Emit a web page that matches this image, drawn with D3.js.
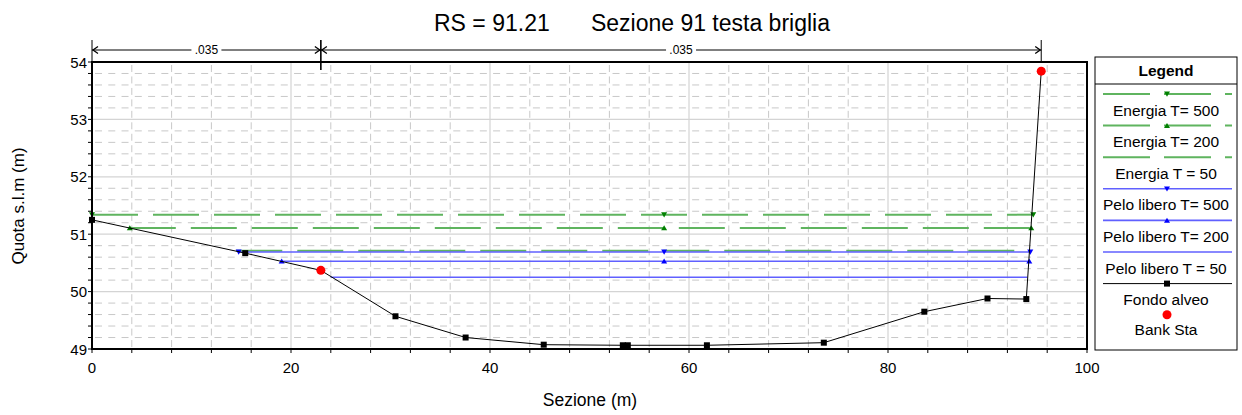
<!DOCTYPE html>
<html><head><meta charset="utf-8">
<script src="https://cdn.jsdelivr.net/npm/d3@7"></script>
<style>body{margin:0;background:#fff;} text{font-family:"Liberation Sans",Arial,sans-serif;}</style>
</head><body><svg id="c" width="1242" height="415"></svg>
<script>
// ---- data ----
const groundX = [0, 15.4, 23.0, 30.5, 37.55, 45.4, 53.35, 53.85, 61.8, 73.55, 83.65, 90.0, 93.9, 95.4];
const groundY = [51.25, 50.67, 50.37, 49.57, 49.20, 49.075, 49.065, 49.065, 49.065, 49.11, 49.65, 49.88, 49.87, 53.84];
const bankX = [23.0, 95.4];
const bankY = [50.37, 53.84];
const profileNames = ["Energia T= 500", "Energia T= 200", "Energia T = 50", "Pelo libero T= 500", "Pelo libero T= 200", "Pelo libero T = 50"];
const profileElev = [51.34, 51.11, 50.71, 50.69, 50.53, 50.25];
const profileStart = [0, 3.8, 14.5, 14.74, 19.06, 24.0];
const profileEnd = [94.6, 94.4, 94.2, 94.3, 94.2, 94.0];
const profileMarkerX = [[0, 57.5, 94.6], [3.8, 57.5, 94.4], [], [14.74, 57.5, 94.3], [19.06, 57.5, 94.2], []];
const roughnessBreaks = [0, 23.0, 95.4];
const roughnessLabels = [".035", ".035"];
const xTicks = [0, 20, 40, 60, 80, 100];
const yTicks = [49, 50, 51, 52, 53, 54];
const titleRS = "RS = 91.21";
const titleName = "Sezione 91 testa briglia";

// ---- styles ----
const kinds = ["energy", "energy", "energy", "ws", "ws", "ws"];
const markerType = ["down", "up", null, "down", "up", null];

const svg = d3.select("#c");
const x = d3.scaleLinear().domain([0, 100]).range([92, 1087]);
const y = d3.scaleLinear().domain([49, 54]).range([349, 62]);

// grid
const g = svg.append("g");
const minorX = d3.range(0, 100.01, 4);
const minorY = d3.range(49, 54.01, 0.2);
g.selectAll(".hm").data(minorY.filter(v => Math.abs(v - Math.round(v)) > 1e-6)).join("line")
  .attr("x1", x(0)).attr("x2", x(100)).attr("y1", d => y(d)).attr("y2", d => y(d))
  .attr("stroke", "#c8c8c8").attr("stroke-width", 1).attr("stroke-dasharray", "7,6.27").attr("stroke-dashoffset", -3);
g.selectAll(".vm").data(minorX.filter(v => v % 20 !== 0)).join("line")
  .attr("y1", y(54)).attr("y2", y(49)).attr("x1", d => x(d)).attr("x2", d => x(d))
  .attr("stroke", "#c8c8c8").attr("stroke-width", 1).attr("stroke-dasharray", "7,4.46").attr("stroke-dashoffset", -3);
g.selectAll(".hM").data(yTicks).join("line")
  .attr("x1", x(0)).attr("x2", x(100)).attr("y1", d => y(d)).attr("y2", d => y(d))
  .attr("stroke", "#d4d4d4").attr("stroke-width", 1.2);
g.selectAll(".vM").data(xTicks).join("line")
  .attr("y1", y(54)).attr("y2", y(49)).attr("x1", d => x(d)).attr("x2", d => x(d))
  .attr("stroke", "#d4d4d4").attr("stroke-width", 1.2);

// axes ticks
const ax = svg.append("g");
ax.selectAll(".xt").data(minorX).join("line")
  .attr("x1", d => x(d)).attr("x2", d => x(d)).attr("y1", y(49)).attr("y2", y(49) + 4)
  .attr("stroke", "#000");
ax.selectAll(".yt").data(minorY).join("line")
  .attr("x1", x(0) - 4).attr("x2", x(0)).attr("y1", d => y(d)).attr("y2", d => y(d))
  .attr("stroke", "#000");
ax.selectAll(".xl").data(xTicks).join("text")
  .attr("x", d => x(d)).attr("y", 373).attr("text-anchor", "middle")
  .attr("font-size", 15).text(d => d);
ax.selectAll(".yl").data(yTicks).join("text")
  .attr("x", x(0) - 5).attr("y", d => y(d) + 5.5).attr("text-anchor", "end")
  .attr("font-size", 15).text(d => d);

// profile lines
const lineColor = k => k === "energy" ? "#5fb45f" : "#6060ff";
const markColor = k => k === "energy" ? "#008000" : "#0000ff";
const tri = (t, s) => t === "down" ? `M${-s},${-s*0.8}L${s},${-s*0.8}L0,${s*0.9}Z` : `M${-s},${s*0.8}L${s},${s*0.8}L0,${-s*0.9}Z`;

const pl = svg.append("g");
profileNames.forEach((n, i) => {
  const k = kinds[i];
  pl.append("line")
    .attr("x1", x(profileStart[i])).attr("x2", x(profileEnd[i]))
    .attr("y1", y(profileElev[i])).attr("y2", y(profileElev[i]))
    .attr("stroke", lineColor(k)).attr("stroke-width", k === "energy" ? 2 : 1.6)
    .attr("stroke-dasharray", k === "energy" ? "46,15" : null);
});
profileNames.forEach((n, i) => {
  if (!markerType[i]) return;
  pl.selectAll(null).data(profileMarkerX[i]).join("path")
    .attr("transform", d => `translate(${x(d)},${y(profileElev[i])})`)
    .attr("d", tri(markerType[i], 3)).attr("fill", markColor(kinds[i]));
});

// ground
const line = d3.line().x(d => x(d[0])).y(d => y(d[1]));
const gpts = groundX.map((v, i) => [v, groundY[i]]);
svg.append("path").attr("d", line(gpts)).attr("fill", "none").attr("stroke", "#000").attr("stroke-width", 1);
svg.selectAll(".gs").data(gpts).join("rect")
  .attr("x", d => x(d[0]) - 3).attr("y", d => y(d[1]) - 3).attr("width", 6).attr("height", 6).attr("fill", "#000");
svg.selectAll(".bk").data(bankX).join("circle")
  .attr("cx", d => x(d)).attr("cy", (d, i) => y(bankY[i])).attr("r", 4.5).attr("fill", "#ff0000");

// frame
svg.append("rect").attr("x", x(0)).attr("y", y(54)).attr("width", x(100) - x(0)).attr("height", y(49) - y(54))
  .attr("fill", "none").attr("stroke", "#000").attr("stroke-width", 2);

// roughness annotation
const an = svg.append("g");
const ay = 50;
an.append("line").attr("x1", x(roughnessBreaks[0])).attr("x2", x(roughnessBreaks[2])).attr("y1", ay).attr("y2", ay).attr("stroke", "#000");
roughnessBreaks.forEach((b, i) => {
  an.append("line").attr("x1", x(b)).attr("x2", x(b)).attr("y1", 40).attr("y2", i === 1 ? y(54) + 8 : y(54)).attr("stroke", "#000").attr("stroke-width", i === 1 ? 1.6 : 1);
});
const arrow = (px, dir) => an.append("path")
  .attr("d", `M${px + dir * 6},${ay - 3.5}L${px + dir * 1},${ay}L${px + dir * 6},${ay + 3.5}`)
  .attr("fill", "none").attr("stroke", "#000").attr("stroke-width", 1.3);
for (let i = 0; i < roughnessLabels.length; i++) {
  const a = x(roughnessBreaks[i]), b = x(roughnessBreaks[i + 1]);
  arrow(a, 1); arrow(b, -1);
  const cx = (a + b) / 2;
  an.append("rect").attr("x", cx - 15).attr("y", ay - 6).attr("width", 30).attr("height", 12).attr("fill", "#fff");
  an.append("text").attr("x", cx).attr("y", ay + 4).attr("text-anchor", "middle").attr("font-size", 12).text(roughnessLabels[i]);
}

// title & labels
svg.append("text").attr("x", 434).attr("y", 31).attr("text-anchor", "start").attr("font-size", 23).text(titleRS);
svg.append("text").attr("x", 830).attr("y", 31).attr("text-anchor", "end").attr("font-size", 23).text(titleName);
svg.append("text").attr("x", 590).attr("y", 406).attr("text-anchor", "middle").attr("font-size", 17.5).text("Sezione (m)");
svg.append("text").attr("transform", "translate(24,206) rotate(-90)").attr("text-anchor", "middle").attr("font-size", 17).text("Quota s.l.m (m)");

// legend
const lg = svg.append("g");
const L = {x0: 1095, x1: 1237, y0: 57, y1: 350};
lg.append("rect").attr("x", L.x0).attr("y", L.y0).attr("width", L.x1 - L.x0).attr("height", L.y1 - L.y0)
  .attr("fill", "#fff").attr("stroke", "#000").attr("stroke-width", 1);
lg.append("line").attr("x1", L.x0).attr("x2", L.x1).attr("y1", 84).attr("y2", 84).attr("stroke", "#000");
lg.append("text").attr("x", 1166).attr("y", 76).attr("text-anchor", "middle").attr("font-size", 15.5).attr("font-weight", "bold").text("Legend");
const rowY = i => 94 + i * 31.6;
profileNames.forEach((n, i) => {
  const k = kinds[i], yy = rowY(i);
  lg.append("line").attr("x1", 1103).attr("x2", 1232).attr("y1", yy).attr("y2", yy)
    .attr("stroke", lineColor(k)).attr("stroke-width", k === "energy" ? 2 : 1.6)
    .attr("stroke-dasharray", k === "energy" ? "47,14" : null);
  if (markerType[i]) lg.append("path").attr("transform", `translate(1167,${yy})`).attr("d", tri(markerType[i], 3)).attr("fill", markColor(k));
  lg.append("text").attr("x", 1166).attr("y", yy + 21.5).attr("text-anchor", "middle").attr("font-size", 15.5).text(n);
});
{
  const yy = rowY(6);
  lg.append("line").attr("x1", 1103).attr("x2", 1232).attr("y1", yy).attr("y2", yy).attr("stroke", "#000");
  lg.append("rect").attr("x", 1164).attr("y", yy - 3).attr("width", 6).attr("height", 6).attr("fill", "#000");
  lg.append("text").attr("x", 1166).attr("y", yy + 21.5).attr("text-anchor", "middle").attr("font-size", 15.5).text("Fondo alveo");
  const yb = rowY(7) - 0.5;
  lg.append("circle").attr("cx", 1167).attr("cy", yb).attr("r", 4.5).attr("fill", "#ff0000");
  lg.append("text").attr("x", 1166).attr("y", yb + 20).attr("text-anchor", "middle").attr("font-size", 15.5).text("Bank Sta");
}
</script></body></html>
